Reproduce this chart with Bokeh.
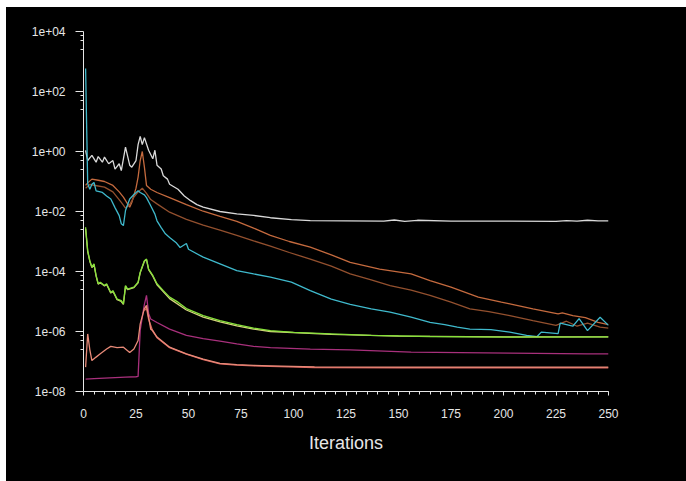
from bokeh.plotting import figure
from bokeh.models import FixedTicker, Spacer
from bokeh.layouts import column, row
from bokeh.embed import file_html
from bokeh.resources import INLINE

# ---- data ----
white_it = [1, 2, 4, 6, 7, 9, 10, 12, 14, 15, 17, 18, 20, 22, 23, 25, 26, 27, 28, 29, 31, 33, 34, 35, 37, 38,
            40, 41, 45, 48, 51, 54, 57, 65, 73, 81, 89, 99, 108, 125, 143, 148, 153, 159, 175, 203, 225, 230,
            235, 240, 245, 250]
white_val = [1.1, 0.5, 0.74, 0.44, 0.68, 0.44, 0.65, 0.39, 0.5, 0.26, 0.39, 0.23, 1.4, 0.35, 0.3, 0.5, 1.7, 3.2,
             1.7, 2.9, 1.1, 0.57, 1.1, 0.35, 0.26, 0.155, 0.12, 0.081, 0.055, 0.033, 0.023, 0.017, 0.014, 0.010,
             0.0083, 0.0074, 0.0062, 0.0054, 0.005, 0.0049, 0.0048, 0.0052, 0.0047, 0.0051, 0.0048, 0.0048,
             0.0047, 0.005, 0.0048, 0.0051, 0.0049, 0.0049]

cyan_it = [1, 2, 3, 4, 5, 6, 9, 11, 13, 15, 17, 18, 19, 20, 22, 24, 26, 27, 29, 30, 32, 34, 35, 37, 39, 41, 44,
           46, 49, 50, 57, 65, 73, 81, 89, 99, 108, 118, 127, 137, 146, 156, 165, 172, 178, 184, 194, 203, 211,
           216, 218, 226, 227, 233, 236, 240, 246, 250]
cyan_val = [580, 0.085, 0.055, 0.081, 0.093, 0.049, 0.043, 0.033, 0.026, 0.0135, 0.0073, 0.0039, 0.0034, 0.0108,
            0.026, 0.037, 0.049, 0.043, 0.036, 0.029, 0.0155, 0.0082, 0.0049, 0.0029, 0.0018, 0.00135, 9.3e-4,
            6.3e-4, 8.6e-4, 5.5e-4, 3e-4, 1.8e-4, 1.07e-4, 8.3e-5, 6.5e-5, 4.4e-5, 2.3e-5, 1.2e-5, 8e-6, 5.7e-6,
            4.4e-6, 3e-6, 2e-6, 1.7e-6, 1.4e-6, 1.2e-6, 1.15e-6, 9.5e-7, 7.4e-7, 6.8e-7, 9.5e-7, 8.5e-7, 1.9e-6,
            1.5e-6, 2.7e-6, 1.07e-6, 3e-6, 1.6e-6]

orange_it = [1, 2, 4, 7, 10, 14, 17, 19, 21, 22, 23, 25, 26, 27, 28, 29, 30, 32, 35, 41, 49, 57, 65, 73, 81, 89,
             98, 108, 118, 127, 141, 156, 165, 175, 188, 199, 203, 214, 226, 228, 233, 239, 245, 250]
orange_val = [0.074, 0.09, 0.12, 0.11, 0.1, 0.074, 0.045, 0.03, 0.018, 0.014, 0.02, 0.06, 0.14, 0.5, 1.0, 0.3,
              0.074, 0.055, 0.043, 0.029, 0.017, 0.0102, 0.0069, 0.0047, 0.0028, 0.0016, 1.0e-3, 6.5e-4, 3.6e-4,
              2e-4, 1.2e-4, 8.3e-5, 5e-5, 3e-5, 1.4e-5, 9.5e-6, 8.4e-6, 5.7e-6, 3.9e-6, 4.2e-6, 3.4e-6, 2.9e-6,
              2e-6, 1.7e-6]

brown_it = [1, 3, 5, 10, 14, 16, 18, 20, 22, 24, 26, 28, 30, 32, 35, 41, 49, 57, 65, 73, 81, 89, 98, 108, 118,
            127, 137, 146, 156, 165, 175, 184, 193, 203, 214, 225, 230, 235, 240, 246, 250]
brown_val = [0.06, 0.08, 0.075, 0.065, 0.045, 0.03, 0.02, 0.013, 0.017, 0.03, 0.045, 0.06, 0.04, 0.025, 0.018,
             0.0095, 0.0055, 0.0035, 0.0024, 0.0016, 1.05e-3, 7e-4, 4.3e-4, 2.6e-4, 1.5e-4, 8.3e-5, 5.3e-5,
             3.4e-5, 2.4e-5, 1.6e-5, 9.5e-6, 5.7e-6, 4.6e-6, 3.4e-6, 2.3e-6, 1.6e-6, 2.2e-6, 1.5e-6, 1.9e-6,
             1.4e-6, 1.3e-6]

green_it = [1, 2, 3, 4, 5, 6, 7, 8, 10, 11, 13, 14, 16, 18, 19, 20, 21, 24, 26, 27, 29, 30, 31, 33, 35, 38, 41,
            45, 49, 57, 65, 73, 81, 89, 100, 118, 137, 165, 203, 250]
green_val = [3e-3, 5e-4, 2.3e-4, 1.4e-4, 1.8e-4, 7.4e-5, 3.9e-5, 4.4e-5, 3.4e-5, 3.9e-5, 2e-5, 2.3e-5, 1.2e-5,
             1.07e-5, 8.3e-6, 3.4e-5, 2.6e-5, 3e-5, 4.4e-5, 9.5e-5, 2.3e-4, 2.6e-4, 1.2e-4, 7.4e-5, 3.9e-5,
             2.3e-5, 1.4e-5, 9.5e-6, 5.8e-6, 3.4e-6, 2.3e-6, 1.7e-6, 1.3e-6, 1.07e-6, 9.4e-7, 8.3e-7, 7.4e-7,
             6.8e-7, 6.5e-7, 6.6e-7]

yellow_it = [1, 2, 3, 4, 5, 6, 7, 8, 10, 11, 13, 14, 16, 18, 19, 20, 21, 24, 26, 27, 29, 30, 31, 33, 35, 41, 49,
             57, 65, 73, 81, 89, 118, 150, 200, 250]
yellow_val = [2.6e-3, 4.6e-4, 2.2e-4, 1.35e-4, 1.7e-4, 7e-5, 3.8e-5, 4.2e-5, 3.3e-5, 3.7e-5, 1.9e-5, 2.2e-5,
              1.15e-5, 1.0e-5, 8e-6, 3.2e-5, 2.5e-5, 2.9e-5, 4.2e-5, 9e-5, 2.2e-4, 2.5e-4, 1.15e-4, 7e-5, 3.6e-5,
              1.25e-5, 5.2e-6, 3.0e-6, 2.1e-6, 1.55e-6, 1.2e-6, 1.0e-6, 8.0e-7, 7.0e-7, 6.6e-7, 6.6e-7]

magenta_it = [1, 5, 10, 15, 20, 25, 26, 27, 28, 29, 30, 31, 32, 35, 41, 49, 57, 65, 73, 81, 89, 108, 127, 156,
              203, 240, 250]
magenta_val = [2.6e-8, 2.7e-8, 2.8e-8, 2.9e-8, 3.0e-8, 3.1e-8, 3.2e-8, 1.1e-6, 3e-6, 8e-6, 1.6e-5, 4e-6, 2.6e-6,
               2.0e-6, 1.2e-6, 7.4e-7, 5.8e-7, 4.8e-7, 3.9e-7, 3.2e-7, 2.9e-7, 2.6e-7, 2.45e-7, 2.05e-7, 1.9e-7,
               1.8e-7, 1.8e-7]

salmon_it = [1, 2, 3, 4, 6, 8, 11, 13, 16, 19, 21, 22, 24, 26, 27, 29, 30, 31, 32, 33, 35, 41, 49, 57, 65, 73,
             81, 89, 110, 150, 200, 250]
salmon_val = [6.5e-8, 8.3e-7, 2.5e-7, 1.07e-7, 1.4e-7, 1.8e-7, 2.6e-7, 3.2e-7, 2.9e-7, 3.0e-7, 2.3e-7, 2.0e-7,
              2.6e-7, 5e-7, 1.8e-6, 5.8e-6, 7.4e-6, 3e-6, 1.2e-6, 1.07e-6, 6.5e-7, 3e-7, 1.8e-7, 1.2e-7, 8.7e-8,
              7.9e-8, 7.4e-8, 7.2e-8, 6.6e-8, 6.5e-8, 6.5e-8, 6.5e-8]

red_it = [29, 30, 31, 33, 35, 41, 49, 57, 65, 73, 81, 89, 110, 150, 200, 250]
red_val = [5e-6, 6e-6, 2.6e-6, 1.0e-6, 6.2e-7, 2.9e-7, 1.75e-7, 1.15e-7, 8.4e-8, 7.6e-8, 7.1e-8, 6.9e-8, 6.3e-8,
           6.2e-8, 6.2e-8, 6.2e-8]

x_ticks = [0, 25, 50, 75, 100, 125, 150, 175, 200, 225, 250]
x_minor = list(range(0, 251, 5))
y_ticks = [1e-08, 1e-06, 1e-04, 1e-02, 1e+00, 1e+02, 1e+04]
y_tick_labels = ["1e-08", "1e-06", "1e-04", "1e-02", "1e+00", "1e+02", "1e+04"]
y_minor_factors = [0.75, 0.5, 0.25]
x_label = "Iterations"

FONT = "Liberation Sans"
FG = "#e6e6e6"

p = figure(width=680, height=474, y_axis_type="log", x_range=(0, 250), y_range=(1e-8, 1e4),
           output_backend="svg", toolbar_location=None,
           background_fill_color="black", border_fill_color="black",
           min_border_left=77, min_border_right=78, min_border_top=24, min_border_bottom=90)
p.outline_line_color = None
p.grid.visible = False

series = [
    (white_it, white_val, "#d9d9d9"),
    (orange_it, orange_val, "#c46a3e"),
    (brown_it, brown_val, "#93502e"),
    (cyan_it, cyan_val, "#3fb9cc"),
    (yellow_it, yellow_val, "#d2d27a"),
    (green_it, green_val, "#86e03a"),
    (magenta_it, magenta_val, "#a8307c"),
    (red_it, red_val, "#d8605c"),
    (salmon_it, salmon_val, "#e88a78"),
]
for xs, ys, c in series:
    p.line(xs, ys, line_color=c, line_width=1.3)

xa = p.xaxis[0]
xa.ticker = FixedTicker(ticks=x_ticks, minor_ticks=x_minor)
xa.axis_label = x_label
ya = p.yaxis[0]
y_minor = [t * f for t in y_ticks[1:] for f in y_minor_factors]
ya.ticker = FixedTicker(ticks=y_ticks, minor_ticks=y_minor)
ya.major_label_overrides = {t: l for t, l in zip(y_ticks, y_tick_labels)}

for ax in (xa, ya):
    ax.axis_line_color = FG
    ax.major_tick_line_color = FG
    ax.minor_tick_line_color = FG
    ax.major_tick_in = 0
    ax.minor_tick_in = 0
    ax.major_label_text_color = FG
    ax.major_label_text_font = FONT
    ax.major_label_text_font_size = "12px"
    ax.axis_label_text_color = FG
    ax.axis_label_text_font = FONT
    ax.axis_label_text_font_style = "normal"
    ax.axis_label_text_font_size = "18px"

ya.major_tick_out = 8
ya.minor_tick_out = 3
ya.major_label_standoff = 10
xa.major_tick_out = 4
xa.minor_tick_out = 3
xa.major_label_standoff = 13
xa.axis_label_standoff = 12

p.styles = {"background-color": "black"}
top_strip = Spacer(width=686, height=7, styles={"background-color": "white"})
left_strip = Spacer(width=6, height=474, styles={"background-color": "white"})
body = row(left_strip, p, spacing=0, styles={"background-color": "black"})
layout = column(top_strip, body, spacing=0, styles={"background-color": "black"})
open("out.html", "w").write(file_html(layout, INLINE))
